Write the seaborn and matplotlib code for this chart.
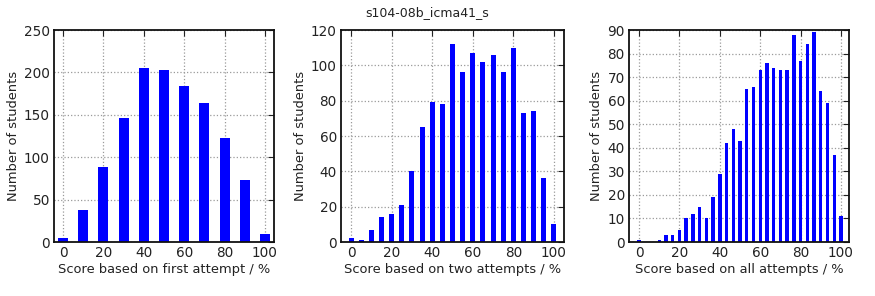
import matplotlib
matplotlib.use("Agg")
import matplotlib.pyplot as plt
import seaborn as sns
import pandas as pd

# ---- data ----
first_scores = [0, 10, 20, 30, 40, 50, 60, 70, 80, 90, 100]
first_counts = [5, 38, 88, 146, 205, 203, 184, 164, 123, 73, 10]

two_scores = [0, 5, 10, 15, 20, 25, 30, 35, 40, 45, 50, 55, 60, 65, 70, 75, 80, 85, 90, 95, 100]
two_counts = [2, 1, 7, 14, 16, 21, 40, 65, 79, 78, 112, 96, 107, 102, 106, 96, 110, 73, 74, 36, 10]

all_scores = [0, 3.33, 6.67, 10, 13.33, 16.67, 20, 23.33, 26.67, 30, 33.33, 36.67,
              40, 43.33, 46.67, 50, 53.33, 56.67, 60, 63.33, 66.67, 70, 73.33, 76.67,
              80, 83.33, 86.67, 90, 93.33, 96.67, 100]
all_counts = [1, 0, 0, 1, 3, 3, 5, 10, 12, 15, 10, 19,
              29, 42, 48, 43, 65, 66, 73, 76, 74, 73, 73, 88,
              77, 84, 89, 64, 59, 37, 11]

title = "s104-08b_icma41_s"
xlabels = ["Score based on first attempt / %",
           "Score based on two attempts / %",
           "Score based on all attempts / %"]
ylabel = "Number of students"
x_ticks = [0, 20, 40, 60, 80, 100]
y_limits = [250, 120, 90]
y_steps = [50, 20, 10]

sns.set_theme(style="white")
plt.rcParams['font.family'] = ['DejaVu Sans']

fig = plt.figure(figsize=(8.75, 2.96), dpi=100)
positions = [
    [54 / 875, 54 / 296, 220 / 875, 212 / 296],
    [341 / 875, 54 / 296, 223 / 875, 212 / 296],
    [629 / 875, 54 / 296, 220 / 875, 212 / 296],
]
xlims = [(-4.5, 104.5), (-5, 105), (-5, 104)]
datasets = [(first_scores, first_counts), (two_scores, two_counts), (all_scores, all_counts)]

for i, (xs, ys) in enumerate(datasets):
    ax = fig.add_axes(positions[i])
    df = pd.DataFrame({"score": xs, "count": ys})
    sns.barplot(data=df, x="score", y="count", native_scale=True, orient="v",
                color="#0000ff", saturation=1, width=0.5, errorbar=None,
                linewidth=0, ax=ax)
    ax.set_xlim(*xlims[i])
    ax.set_ylim(0, y_limits[i])
    ax.set_xticks(x_ticks)
    ax.set_yticks(list(range(0, y_limits[i] + 1, y_steps[i])))
    ax.set_xlabel(xlabels[i], fontsize=9.4, color="#222222", labelpad=2)
    ax.set_ylabel(ylabel, fontsize=9.4, color="#222222", labelpad=3)
    ax.tick_params(axis="both", direction="in", length=4, width=0.8,
                   top=True, right=True, labelsize=9.8, colors="#222222", pad=3)
    ax.grid(True, linestyle=":", color="#9a9a9a", linewidth=0.9)
    ax.set_axisbelow(True)
    for sp in ax.spines.values():
        sp.set_visible(True)
        sp.set_color("#111111")
        sp.set_linewidth(1.3)

fig.text(427 / 875, 1 - 13 / 296, title, ha="center", va="center", fontsize=9, color="#222222")

fig.savefig("out.png", dpi=100, facecolor="white")
